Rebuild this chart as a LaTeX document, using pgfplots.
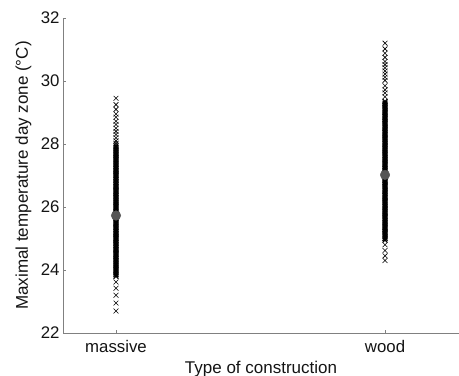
\documentclass[border=0pt]{standalone}
\usepackage{pgfplots}
\pgfplotsset{compat=1.18}
\usepackage{fontspec}
\setmainfont{Liberation Sans}
\definecolor{axisgray}{RGB}{128,128,128}
\definecolor{meangray}{RGB}{85,85,85}
\definecolor{textgray}{RGB}{20,20,20}
\begin{document}
\begin{tikzpicture}
\begin{axis}[
  scale only axis,
  width=396pt, height=315pt,
  xmin=0.803, xmax=2.275,
  ymin=22, ymax=32,
  axis x line=bottom, axis y line=left,
  axis line style={-, draw=axisgray, line width=0.8pt},
  xtick={1,2}, xticklabels={massive,wood},
  ytick={22,24,...,32},
  tick align=inside, major tick length=3pt,
  tick style={draw=axisgray, line width=0.6pt},
  /pgf/number format/assume math mode=true,
  tick label style={font=\fontsize{16.8}{19}\selectfont, text=textgray},
  yticklabel style={xshift=0pt},
  xticklabel style={yshift=-4pt},
  label style={font=\fontsize{17}{20}\selectfont, text=textgray},
  xlabel={Type of construction},
  ylabel={Maximal temperature day zone (°C)},
  xlabel style={at={(axis description cs:0.5,-0.115)}, anchor=center},
  ylabel style={at={(axis description cs:-0.1, 0.5)}, anchor=center},
  clip=false,
  sparse/.style={only marks, mark=x, mark size=3.4pt, mark options={line width=0.6pt, black}},
  dense/.style={only marks, mark=x, mark size=3.4pt, mark options={line width=1.1pt, black}},
]
% individual days, massive construction: tails
\addplot[sparse] coordinates {
 (1,29.45) (1,29.25) (1,29.10) (1,28.95) (1,28.85) (1,28.72) (1,28.62) (1,28.50) (1,28.40) (1,28.30) (1,28.20) (1,28.10) (1,28.02)
 (1,23.62) (1,23.42) (1,23.20) (1,22.95) (1,22.70)
};
% individual days, massive construction: bulk
\addplot[dense] coordinates {
 (1,23.80) (1,23.85) (1,23.90) (1,23.95) (1,24.00) (1,24.05) (1,24.10) (1,24.15) (1,24.20) (1,24.25) (1,24.30) (1,24.35)
 (1,24.40) (1,24.45) (1,24.50) (1,24.55) (1,24.60) (1,24.65) (1,24.70) (1,24.75) (1,24.80) (1,24.85) (1,24.90) (1,24.95)
 (1,25.00) (1,25.05) (1,25.10) (1,25.15) (1,25.20) (1,25.25) (1,25.30) (1,25.35) (1,25.40) (1,25.45) (1,25.50) (1,25.55)
 (1,25.60) (1,25.65) (1,25.70) (1,25.75) (1,25.80) (1,25.85) (1,25.90) (1,25.95) (1,26.00) (1,26.05) (1,26.10) (1,26.15)
 (1,26.20) (1,26.25) (1,26.30) (1,26.35) (1,26.40) (1,26.45) (1,26.50) (1,26.55) (1,26.60) (1,26.65) (1,26.70) (1,26.75)
 (1,26.80) (1,26.85) (1,26.90) (1,26.95) (1,27.00) (1,27.05) (1,27.10) (1,27.15) (1,27.20) (1,27.25) (1,27.30) (1,27.35)
 (1,27.40) (1,27.45) (1,27.50) (1,27.55) (1,27.60) (1,27.65) (1,27.70) (1,27.75) (1,27.80) (1,27.85) (1,27.90) (1,27.95)
};
% individual days, wood construction: tails
\addplot[sparse] coordinates {
 (2,31.20) (2,31.02) (2,30.88) (2,30.75) (2,30.62) (2,30.52) (2,30.42) (2,30.32) (2,30.22) (2,30.12) (2,30.02) (2,29.85)
 (2,29.72) (2,29.62) (2,29.50)
 (2,24.80) (2,24.62) (2,24.45) (2,24.30)
};
% individual days, wood construction: bulk
\addplot[dense] coordinates {
 (2,24.95) (2,25.00) (2,25.05) (2,25.10) (2,25.15) (2,25.20) (2,25.25) (2,25.30) (2,25.35) (2,25.40) (2,25.45) (2,25.50)
 (2,25.55) (2,25.60) (2,25.65) (2,25.70) (2,25.75) (2,25.80) (2,25.85) (2,25.90) (2,25.95) (2,26.00) (2,26.05) (2,26.10)
 (2,26.15) (2,26.20) (2,26.25) (2,26.30) (2,26.35) (2,26.40) (2,26.45) (2,26.50) (2,26.55) (2,26.60) (2,26.65) (2,26.70)
 (2,26.75) (2,26.80) (2,26.85) (2,26.90) (2,26.95) (2,27.00) (2,27.05) (2,27.10) (2,27.15) (2,27.20) (2,27.25) (2,27.30)
 (2,27.35) (2,27.40) (2,27.45) (2,27.50) (2,27.55) (2,27.60) (2,27.65) (2,27.70) (2,27.75) (2,27.80) (2,27.85) (2,27.90)
 (2,27.95) (2,28.00) (2,28.05) (2,28.10) (2,28.15) (2,28.20) (2,28.25) (2,28.30) (2,28.35) (2,28.40) (2,28.45) (2,28.50)
 (2,28.55) (2,28.60) (2,28.65) (2,28.70) (2,28.75) (2,28.80) (2,28.85) (2,28.90) (2,28.95) (2,29.00) (2,29.05) (2,29.10)
 (2,29.15) (2,29.20) (2,29.25) (2,29.30) (2,29.35)
};
% mean per construction type
\addplot[only marks, mark=*, mark size=4.8pt, mark options={fill=meangray, draw=meangray}] coordinates {
 (1,25.73) (2,27.02)
};
\coordinate (sw) at (rel axis cs:0,0);
\coordinate (ne) at (rel axis cs:1,1);
\end{axis}
\pgfresetboundingbox
\path ([xshift=-63pt,yshift=-43pt]sw) rectangle ([yshift=18pt]ne);
\end{tikzpicture}
\end{document}
